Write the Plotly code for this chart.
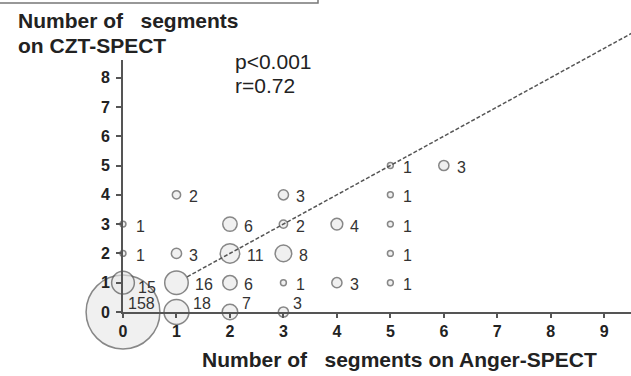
import math
import plotly.graph_objects as go

# ---- data ----
anger = [0, 0, 0, 0, 1, 1, 1, 1, 2, 2, 2, 2, 3, 3, 3, 3, 3, 4, 4, 5, 5, 5, 5, 5, 6]
czt = [0, 1, 2, 3, 0, 1, 2, 4, 0, 1, 2, 3, 0, 1, 2, 3, 4, 1, 3, 1, 2, 3, 4, 5, 5]
counts = [158, 15, 1, 1, 18, 16, 3, 2, 7, 6, 11, 6, 3, 1, 8, 2, 3, 3, 4, 1, 1, 1, 1, 1, 3]
x_ticks = [0, 1, 2, 3, 4, 5, 6, 7, 8, 9]
y_ticks = [0, 1, 2, 3, 4, 5, 6, 7, 8]
reg_slope = 1.0
reg_intercept = 0.0
reg_x = [1.2, 9.6]
stats_lines = ["p<0.001", "r=0.72"]
x_title = "Number of\u00a0\u00a0\u00a0segments on Anger-SPECT"
y_title_lines = ["Number of\u00a0\u00a0\u00a0segments", "on CZT-SPECT"]

# ---- layout geometry (reference pixels) ----
FONT = "Liberation Sans, Arial, sans-serif"
SIZEREF = 0.058
W, H = 631, 376
ML, MR, MT, MB = 123, 0, 30, 376 - 312
pw = W - ML - MR
plot_h = H - MT - MB
y_max = 8.6
y_px_per_unit = 29.3
y_dom_top = (y_max * y_px_per_unit) / plot_h
y2_max = plot_h / y_px_per_unit


def px(xpix):
    return (xpix - ML) / pw


def py(ypix):
    return (H - MB - ypix) / plot_h


def radius(n):
    return math.sqrt(n / 2 / SIZEREF)


fig = go.Figure()

reg_y = [reg_slope * v + reg_intercept for v in reg_x]
fig.add_trace(go.Scatter(
    x=reg_x, y=reg_y, xaxis="x", yaxis="y2", mode="lines",
    line=dict(color="#555555", width=1.5, dash="4px,2px"),
    hoverinfo="skip", showlegend=False,
))

fig.add_trace(go.Scatter(
    x=anger, y=czt, xaxis="x", yaxis="y", mode="markers", cliponaxis=False,
    marker=dict(size=counts, sizemode="area", sizeref=SIZEREF,
                color="rgba(232,232,232,0.9)",
                line=dict(color="#555555", width=1.5)),
    showlegend=False,
))

annotations = []
for xi, yi, n in zip(anger, czt, counts):
    r = radius(n)
    if yi == 0:
        if n == 158:
            xs, ys = 3, 9
        else:
            xs, ys = r + 2, 9
    else:
        xs, ys = max(r + 5, 11), -2
        if n == 15 and xi == 0:
            xs, ys = 13, -5
    annotations.append(dict(
        x=xi, y=yi, xref="x", yref="y", text=str(n), showarrow=False,
        xanchor="left", yanchor="middle", xshift=xs, yshift=ys,
        font=dict(family=FONT, size=16, color="#333333"),
    ))

# stats text lines
for i, line in enumerate(stats_lines):
    annotations.append(dict(
        x=px(233), y=py(61 + 24 * i), xref="paper", yref="paper", text=line,
        showarrow=False, xanchor="left", yanchor="middle",
        font=dict(family=FONT, size=21, color="#222222"),
    ))

# y-axis title at top left
for i, line in enumerate(y_title_lines):
    annotations.append(dict(
        x=px(16), y=py(20 + 25 * i), xref="paper", yref="paper", text="<b>" + line + "</b>",
        showarrow=False, xanchor="left", yanchor="middle", align="left",
        font=dict(family=FONT, size=21, color="#222222"),
    ))
# x-axis title
annotations.append(dict(
    x=px(399), y=py(359), xref="paper", yref="paper", text="<b>" + x_title + "</b>",
    showarrow=False, xanchor="center", yanchor="middle",
    font=dict(family=FONT, size=21, color="#222222"),
))

fig.add_shape(type="rect", xref="paper", yref="paper",
              x0=px(-10), x1=px(318), y0=py(3), y1=py(-20),
              line=dict(color="#777777", width=1.5), fillcolor="rgba(0,0,0,0)")

fig.update_layout(
    width=W, height=H, margin=dict(l=ML, r=MR, t=MT, b=MB),
    plot_bgcolor="rgba(0,0,0,0)", paper_bgcolor="white",
    font=dict(family=FONT),
    annotations=annotations,
    xaxis=dict(range=[0, 9.5], tickvals=x_ticks, ticktext=[f"<b>{v}</b>" for v in x_ticks],
               showgrid=False, zeroline=False, showline=True, linecolor="#555555", linewidth=2,
               ticks="outside", ticklen=4, tickcolor="#555555", tickwidth=1.5,
               tickfont=dict(family=FONT, size=16, color="#222222"), anchor="y"),
    yaxis=dict(range=[0, y_max], domain=[0, y_dom_top], tickvals=y_ticks,
               ticktext=[f"<b>{v}</b>" for v in y_ticks],
               showgrid=False, zeroline=False, showline=True, linecolor="#555555", linewidth=2,
               ticks="outside", ticklen=5, tickcolor="#555555", tickwidth=1.5,
               ticklabelstandoff=3,
               tickfont=dict(family=FONT, size=16, color="#222222"), anchor="x"),
    yaxis2=dict(range=[0, y2_max], domain=[0, 1], visible=False, anchor="x"),
)

fig.write_html("out.html", config={"displayModeBar": False},
               post_script="document.body.style.margin='0';")
